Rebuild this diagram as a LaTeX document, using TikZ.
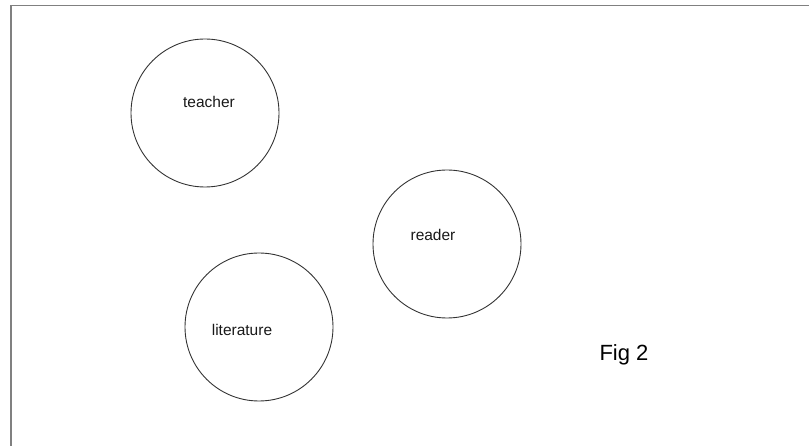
\documentclass[tikz,border=0pt]{standalone}
\usepackage{fontspec}
\setmainfont{Liberation Sans}
\begin{document}
\begin{tikzpicture}[x=1pt,y=-1pt,
  ring/.style={draw=black!80,line width=0.9pt,circle,minimum size=148pt,inner sep=0pt},
  lbl/.style={font=\fontsize{15.5}{18}\selectfont,inner sep=0pt,text=black!90},
  frameline/.style={draw=black!50,line width=1.8pt}]
\useasboundingbox (0,0) rectangle (809,446);
\coordinate (fb) at (11,446);
\coordinate (fc) at (11,5.5);
\coordinate (fr) at (809,5.5);
\draw[frameline] (fb) -- (fc) -- (fr);
\node[ring] (teacher) at (205,113) {};
\node[ring] (reader) at (447,244) {};
\node[ring] (literature) at (259,327) {};
\node[lbl] (tl) at (209,102) {teacher};
\node[lbl] (rl) at (433,235) {reader};
\node[lbl] (ll) at (242,330) {literature};
\node[font=\fontsize{22}{26}\selectfont,inner sep=0pt] (fig) at (624,355) {Fig 2};
\end{tikzpicture}
\end{document}
